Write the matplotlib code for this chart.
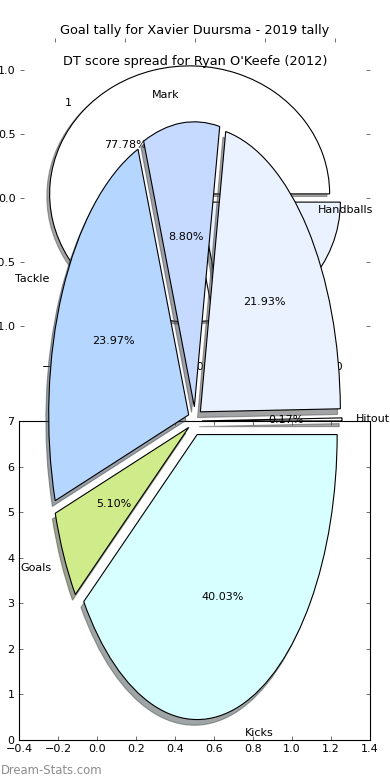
import matplotlib
matplotlib.use("Agg")
import matplotlib.pyplot as plt

# goal tally pie (Xavier Duursma)
goal_labels = ["1", "0"]
goal_counts = [7, 2]

# DT score spread (Ryan O'Keefe 2012), percent of total
dt_labels = ["Hitout", "Handballs", "Mark", "Tackle", "Goals", "Kicks"]
dt_share = [0.17, 21.93, 8.80, 23.97, 5.10, 40.03]

pie_colors = ["white", "#ebf2ff", "#c6daff", "#b5d6ff", "#cfeb8a", "#d8ffff"]

pie_ticks = [-1, -0.5, 0, 0.5, 1]
bar_xlim = (-0.4, 1.4)
bar_ylim = (0, 7)

plt.rcParams.update({
    "font.size": 10,
    "axes.titlesize": 11.6,
    "axes.linewidth": 1.0,
    "xtick.direction": "in",
    "ytick.direction": "in",
    "xtick.top": True,
    "ytick.right": True,
    "xtick.major.size": 4,
    "ytick.major.size": 4,
    "xtick.major.width": 0.5,
    "ytick.major.width": 0.5,
    "xtick.major.pad": 4,
    "ytick.major.pad": 4,
})

W, H = 390, 780
fig = plt.figure(figsize=(W / 80, H / 80), dpi=80)


def px_rect(left, top, right, bottom):
    return [left / W, 1 - bottom / H, (right - left) / W, (bottom - top) / H]


edge = dict(edgecolor="black", linewidth=1)
shade = {"ox": -0.018, "oy": -0.018}  # old-style shadow offset

# --- goal tally pie, sits underneath everything ---
ax1 = fig.add_axes(px_rect(20, 38, 370, 358))
ax1.pie(goal_counts, labels=goal_labels, colors=pie_colors[:len(goal_counts)],
        explode=[0.05] * len(goal_counts), autopct="%1.2f%%", shadow=shade,
        wedgeprops=edge)
ax1.set_aspect("auto")
ax1.set_xlim(-1.25, 1.25)
ax1.set_ylim(-1.25, 1.25)
ax1.set_xticks(pie_ticks)
ax1.set_yticks(pie_ticks)
ax1.set_title("Goal tally for Xavier Duursma - 2019 tally", pad=4)

# --- empty axes left over at the bottom ---
ax3 = fig.add_axes(px_rect(19, 421, 370, 740))
ax3.set_xlim(*bar_xlim)
ax3.set_ylim(*bar_ylim)

# --- DT score pie drawn on top ---
ax2 = fig.add_axes(px_rect(20, 71, 370, 771))
ax2.pie(dt_share, labels=dt_labels, colors=pie_colors,
        explode=[0.05] * len(dt_share), autopct="%1.2f%%", shadow=shade,
        wedgeprops=edge)
ax2.set_aspect("auto")
ax2.set_xlim(-1.25, 1.25)
ax2.set_ylim(-350 / 285, 350 / 285)
ax2.set_title("DT score spread for Ryan O'Keefe (2012)", pad=5)

fig.text(1 / W, 1 - 771 / H, "Dream-Stats.com", color="#8c8c8c",
         fontsize=10.5, va="center", ha="left")

fig.savefig("out.png", dpi=80)
